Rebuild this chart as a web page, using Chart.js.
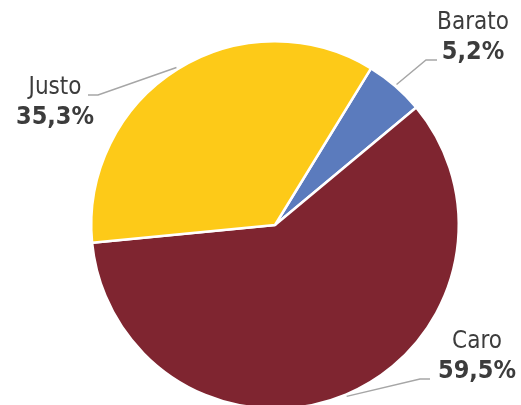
<!DOCTYPE html>
<html>
<head>
<meta charset="utf-8">
<script src="https://cdn.jsdelivr.net/npm/chart.js@4"></script>
<style>
  html, body { margin: 0; padding: 0; background: #fff; }
  #wrap { width: 521px; height: 405px; overflow: hidden; position: relative; }
  #box { width: 521px; height: 420px; position: absolute; left: 0; top: 0; }
</style>
</head>
<body>
<div id="wrap"><div id="box"><canvas id="pie"></canvas></div></div>
<script>
// dados
const categorias = ['Barato', 'Caro', 'Justo'];
const valores = [5.2, 59.5, 35.3];
const rotulos = ['5,2%', '59,5%', '35,3%'];
const cores = ['#5B7BBD', '#7F2530', '#FDCA18'];

// posição dos rótulos (cotovelo da linha, ponta e texto)
const layoutRotulos = [
  { elbow: [426, 60], end: [437, 60], tx: 473, ty: 23 },
  { elbow: [420, 379], end: [430, 379], tx: 477, ty: 342 },
  { elbow: [98, 95], end: [88, 95], tx: 55, ty: 88 }
];

const rotulosPlugin = {
  id: 'rotulos',
  afterDatasetsDraw(chart) {
    const ctx = chart.ctx;
    const meta = chart.getDatasetMeta(0);
    meta.data.forEach((arc, i) => {
      const p = arc.getProps(['x', 'y', 'startAngle', 'endAngle', 'outerRadius'], true);
      const mid = (p.startAngle + p.endAngle) / 2;
      const r = p.outerRadius + 2;
      const sx = p.x + Math.cos(mid) * r;
      const sy = p.y + Math.sin(mid) * r;
      const L = layoutRotulos[i];
      ctx.save();
      ctx.strokeStyle = '#A6A6A6';
      ctx.lineWidth = 1.5;
      ctx.beginPath();
      ctx.moveTo(sx, sy);
      ctx.lineTo(L.elbow[0], L.elbow[1]);
      ctx.lineTo(L.end[0], L.end[1]);
      ctx.stroke();

      ctx.fillStyle = '#3C3C3C';
      ctx.textAlign = 'center';
      ctx.textBaseline = 'middle';
      ctx.font = "24px 'DejaVu Sans Condensed', 'Liberation Sans', sans-serif";
      ctx.fillText(categorias[i], L.tx, L.ty);
      ctx.font = "bold 25px 'DejaVu Sans Condensed', 'Liberation Sans', sans-serif";
      ctx.fillText(rotulos[i], L.tx, L.ty + 29);
      ctx.restore();
    });
  }
};

new Chart(document.getElementById('pie'), {
  type: 'pie',
  data: {
    labels: categorias,
    datasets: [{
      data: valores,
      backgroundColor: cores,
      borderColor: '#ffffff',
      borderWidth: 2.5
    }]
  },
  options: {
    responsive: true,
    maintainAspectRatio: false,
    animation: false,
    rotation: 31.5,
    layout: { padding: { left: 90, right: 61, top: 40, bottom: 10 } },
    plugins: {
      legend: { display: false },
      tooltip: { enabled: false }
    }
  },
  plugins: [rotulosPlugin]
});
</script>
</body>
</html>
